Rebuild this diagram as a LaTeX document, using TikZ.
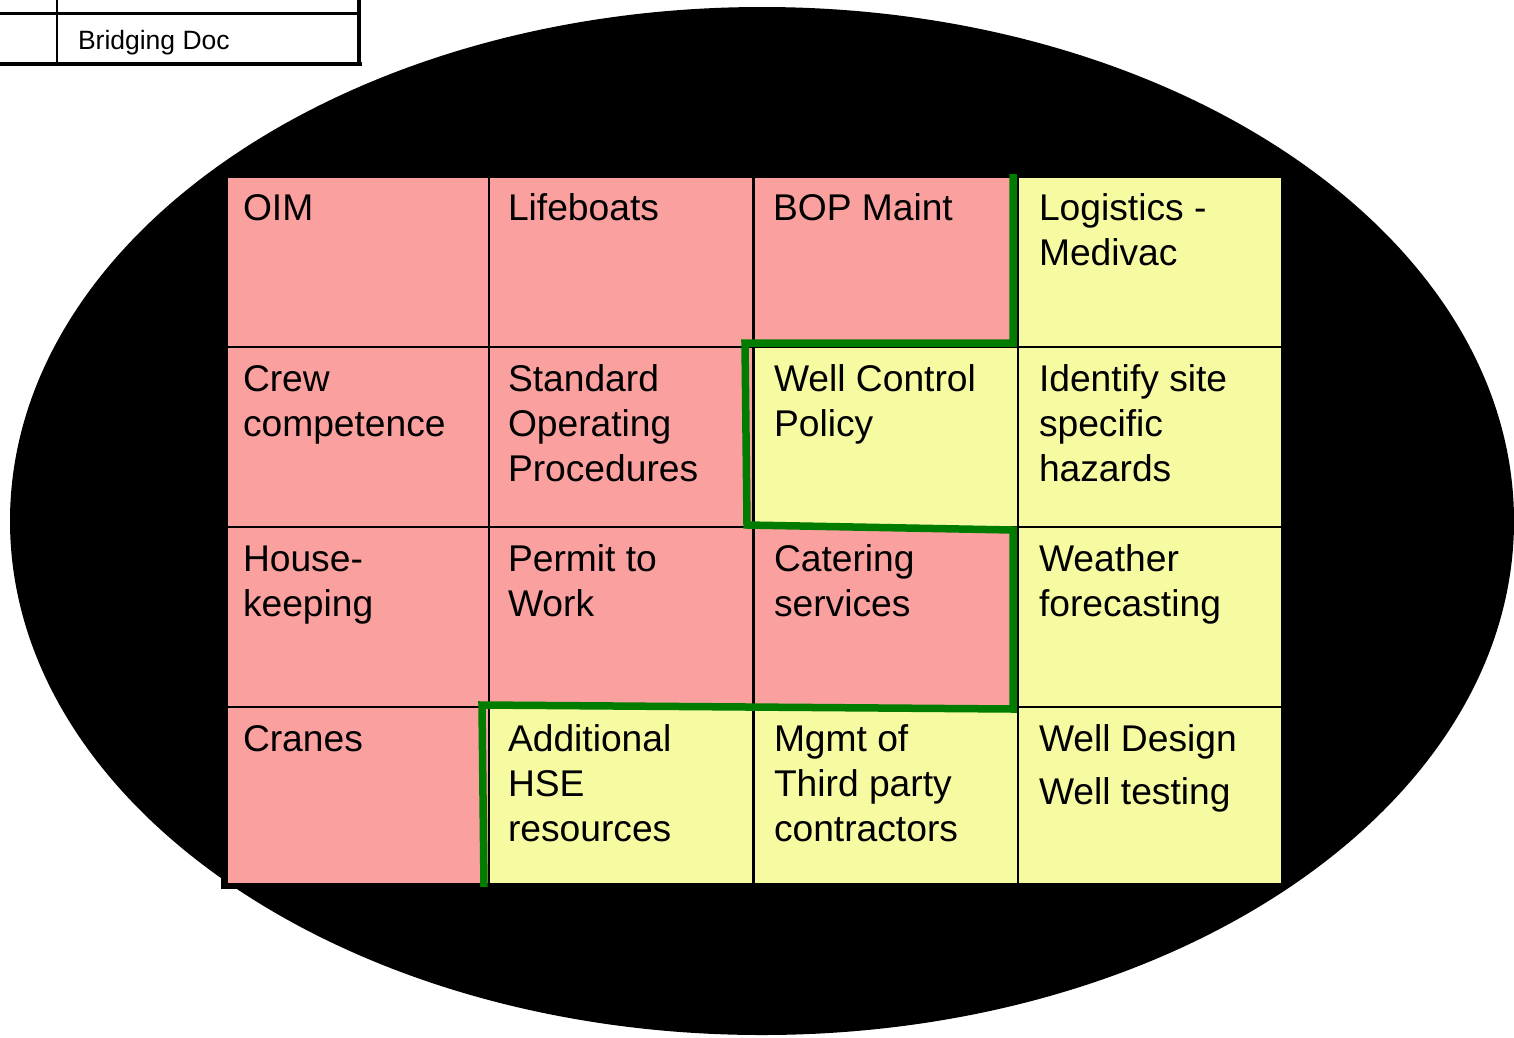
\documentclass[tikz,border=0pt]{standalone}
\usepackage{fontspec}
\setmainfont{Liberation Sans}
\usetikzlibrary{positioning}
\definecolor{riskred}{RGB}{250,160,158}
\definecolor{riskyellow}{RGB}{246,250,160}
\definecolor{gapgreen}{RGB}{0,125,0}
\newcommand\CW{264}

\begin{document}
\begin{tikzpicture}[x=1pt,y=-1pt,line width=2pt]

  \tikzstyle{cell}=[rectangle,draw,anchor=north west,inner sep=0pt,outer sep=0pt,
                    minimum width=\CW pt]
  \tikzstyle{red cell}=[cell,fill=riskred]
  \tikzstyle{yellow cell}=[cell,fill=riskyellow]
  \tikzstyle{txt}=[align=left,inner sep=0pt,outer sep=0pt,
                   font=\fontsize{37.2}{45}\selectfont]

  \useasboundingbox (0,0) rectangle (1514,1037);

  % background
  \fill (762,521) ellipse [x radius=752,y radius=514];
  \fill (221,180) rectangle (1282,889);

  % corner of the title table
  \draw[line width=3pt] (0,13) -- (358,13);
  \draw[line width=4.5pt] (0,64) -- (362,64);
  \draw (57,0) -- (57,63);
  \draw[line width=4.5pt] (359,0) -- (359,66);
  \node[anchor=base west,inner sep=0pt,font=\fontsize{26.5}{32}\selectfont] (BRD) at (77,49) {Bridging Doc};

  % grid
  \node[red cell,minimum height=170pt]    (OIM)  at (227,177)  {};
  \node[red cell,minimum height=170pt]    (LIFE) at (489,177)  {};
  \node[red cell,minimum height=170pt]    (BOP)  at (754,177)  {};
  \node[yellow cell,minimum height=170pt] (LOG)  at (1018,177) {};

  \node[red cell,minimum height=180pt]    (CREW) at (227,347)  {};
  \node[red cell,minimum height=180pt]    (SOP)  at (489,347)  {};
  \node[yellow cell,minimum height=180pt] (WCP)  at (754,347)  {};
  \node[yellow cell,minimum height=180pt] (HAZ)  at (1018,347) {};

  \node[red cell,minimum height=180pt]    (HSK)  at (227,527)  {};
  \node[red cell,minimum height=180pt]    (PTW)  at (489,527)  {};
  \node[red cell,minimum height=180pt]    (CAT)  at (754,527)  {};
  \node[yellow cell,minimum height=180pt] (WTH)  at (1018,527) {};

  \node[red cell,minimum height=177pt]    (CRN)  at (227,707)  {};
  \node[yellow cell,minimum height=177pt] (HSE)  at (489,707)  {};
  \node[yellow cell,minimum height=177pt] (TPC)  at (754,707)  {};
  \node[yellow cell,minimum height=177pt] (WDT)  at (1018,707) {};

  % labels
  \node[txt,below right=11.5pt and 16pt of OIM.north west]  (tOIM)  {\strut OIM};
  \node[txt,below right=11.5pt and 19pt of LIFE.north west] (tLIFE) {\strut Lifeboats};
  \node[txt,below right=11.5pt and 19pt of BOP.north west]  (tBOP)  {\strut BOP Maint};
  \node[txt,below right=11.5pt and 21pt of LOG.north west]  (tLOG)  {\strut Logistics -\\Medivac};

  \node[txt,below right=12.5pt and 16pt of CREW.north west] (tCREW) {\strut Crew\\competence};
  \node[txt,below right=12.5pt and 19pt of SOP.north west]  (tSOP)  {\strut Standard\\Operating\\Procedures};
  \node[txt,below right=12.5pt and 20pt of WCP.north west]  (tWCP)  {\strut Well Control\\Policy};
  \node[txt,below right=12.5pt and 21pt of HAZ.north west]  (tHAZ)  {\strut Identify site\\specific\\hazards};

  \node[txt,below right=12.5pt and 16pt of HSK.north west]  (tHSK)  {\strut House-\\keeping};
  \node[txt,below right=12.5pt and 19pt of PTW.north west]  (tPTW)  {\strut Permit to\\Work};
  \node[txt,below right=12.5pt and 20pt of CAT.north west]  (tCAT)  {\strut Catering\\services};
  \node[txt,below right=12.5pt and 21pt of WTH.north west]  (tWTH)  {\strut Weather\\forecasting};

  \node[txt,below right=12.5pt and 16pt of CRN.north west]  (tCRN)  {\strut Cranes};
  \node[txt,below right=12.5pt and 19pt of HSE.north west]  (tHSE)  {\strut Additional\\HSE\\resources};
  \node[txt,below right=12.5pt and 20pt of TPC.north west]  (tTPC)  {\strut Mgmt of\\Third party\\contractors};
  \node[txt,below right=12.5pt and 21pt of WDT.north west]  (tWDT)  {\strut Well Design\\[8pt]Well testing};

  % boundary between red and yellow
  \draw[gapgreen,line width=7.5pt,line join=miter]
    (1013,174) -- (1013,343) -- (745,343) -- (747,525) -- (1013,530)
    -- (1013,709) -- (482,705) -- (484,887);

\end{tikzpicture}
\end{document}
